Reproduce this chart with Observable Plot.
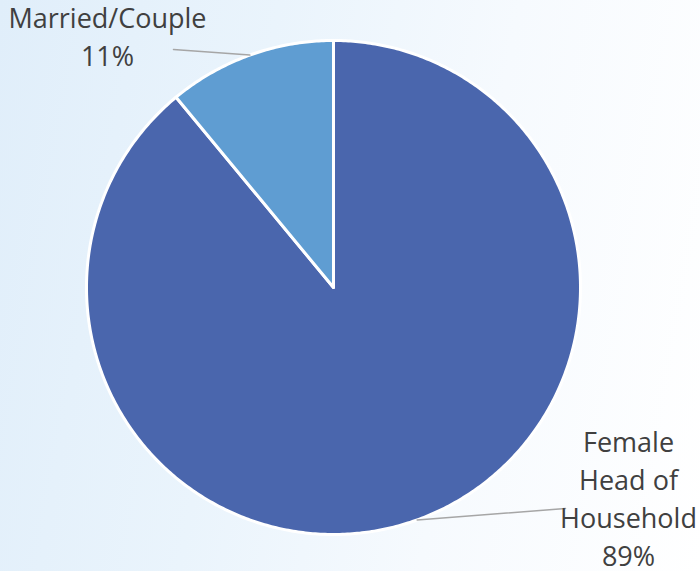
<!DOCTYPE html>
<html>
<head>
<meta charset="utf-8">
<script src="https://cdn.jsdelivr.net/npm/d3@7"></script>
<script src="https://cdn.jsdelivr.net/npm/@observablehq/plot@0.6"></script>
<style>
  html, body { margin: 0; padding: 0; }
  body { width: 700px; height: 571px; overflow: hidden;
    background: linear-gradient(100deg, #e0eefa 0%, #eaf4fc 35%, #f6fafe 65%, #ffffff 100%); }
</style>
</head>
<body>
<div id="chart"></div>
<script>
// Data
const categories = ["Female Head of Household", "Married/Couple"];
const labels = ["Female\nHead of\nHousehold\n89%", "Married/Couple\n11%"];
const values = [89, 11];
const colors = ["#4a66ad", "#5f9dd2"];

// Layout
const W = 700, H = 571;
const cx = 333, cy = 287, R = 247;
const labelPos = [[628, 496], [107, 34.5]];
const leaderEnd = [[565, 508], [173, 49]];

const pie = d3.pie().sort(null).value(d => d)(values);

const slicePts = [];
pie.forEach((p, i) => {
  const n = Math.max(4, Math.ceil((p.endAngle - p.startAngle) / 0.01));
  slicePts.push({k: categories[i], x: cx, y: cy});
  for (let j = 0; j <= n; j++) {
    const a = p.startAngle + (p.endAngle - p.startAngle) * j / n;
    slicePts.push({k: categories[i], x: cx + R * Math.sin(a), y: cy - R * Math.cos(a)});
  }
  slicePts.push({k: categories[i], x: cx, y: cy});
});

const leaders = [];
pie.forEach((p, i) => {
  const a = (p.startAngle + p.endAngle) / 2;
  leaders.push({k: categories[i], x: cx + R * Math.sin(a), y: cy - R * Math.cos(a)});
  leaders.push({k: categories[i], x: leaderEnd[i][0], y: leaderEnd[i][1]});
});

const textData = categories.map((c, i) => ({k: c, label: labels[i], x: labelPos[i][0], y: labelPos[i][1]}));

const chart = Plot.plot({
  width: W, height: H,
  margin: 0,
  x: {domain: [0, W], range: [0, W], axis: null},
  y: {domain: [0, H], range: [0, H], axis: null},
  color: {domain: categories, range: colors},
  style: {background: "transparent"},
  marks: [
    Plot.line(slicePts, {x: "x", y: "y", z: "k", fill: "k", stroke: "white", strokeWidth: 3, strokeLinejoin: "round", curve: "linear"}),
    Plot.line(leaders, {x: "x", y: "y", z: "k", stroke: "#a6a6a6", strokeWidth: 1.5}),
    Plot.text(textData, {x: "x", y: "y", text: "label", fill: "#404040", fontSize: 27, fontFamily: "Open Sans", lineHeight: 1.41, lineAnchor: "middle", textAnchor: "middle"})
  ]
});
document.getElementById("chart").appendChild(chart);
</script>
</body>
</html>
